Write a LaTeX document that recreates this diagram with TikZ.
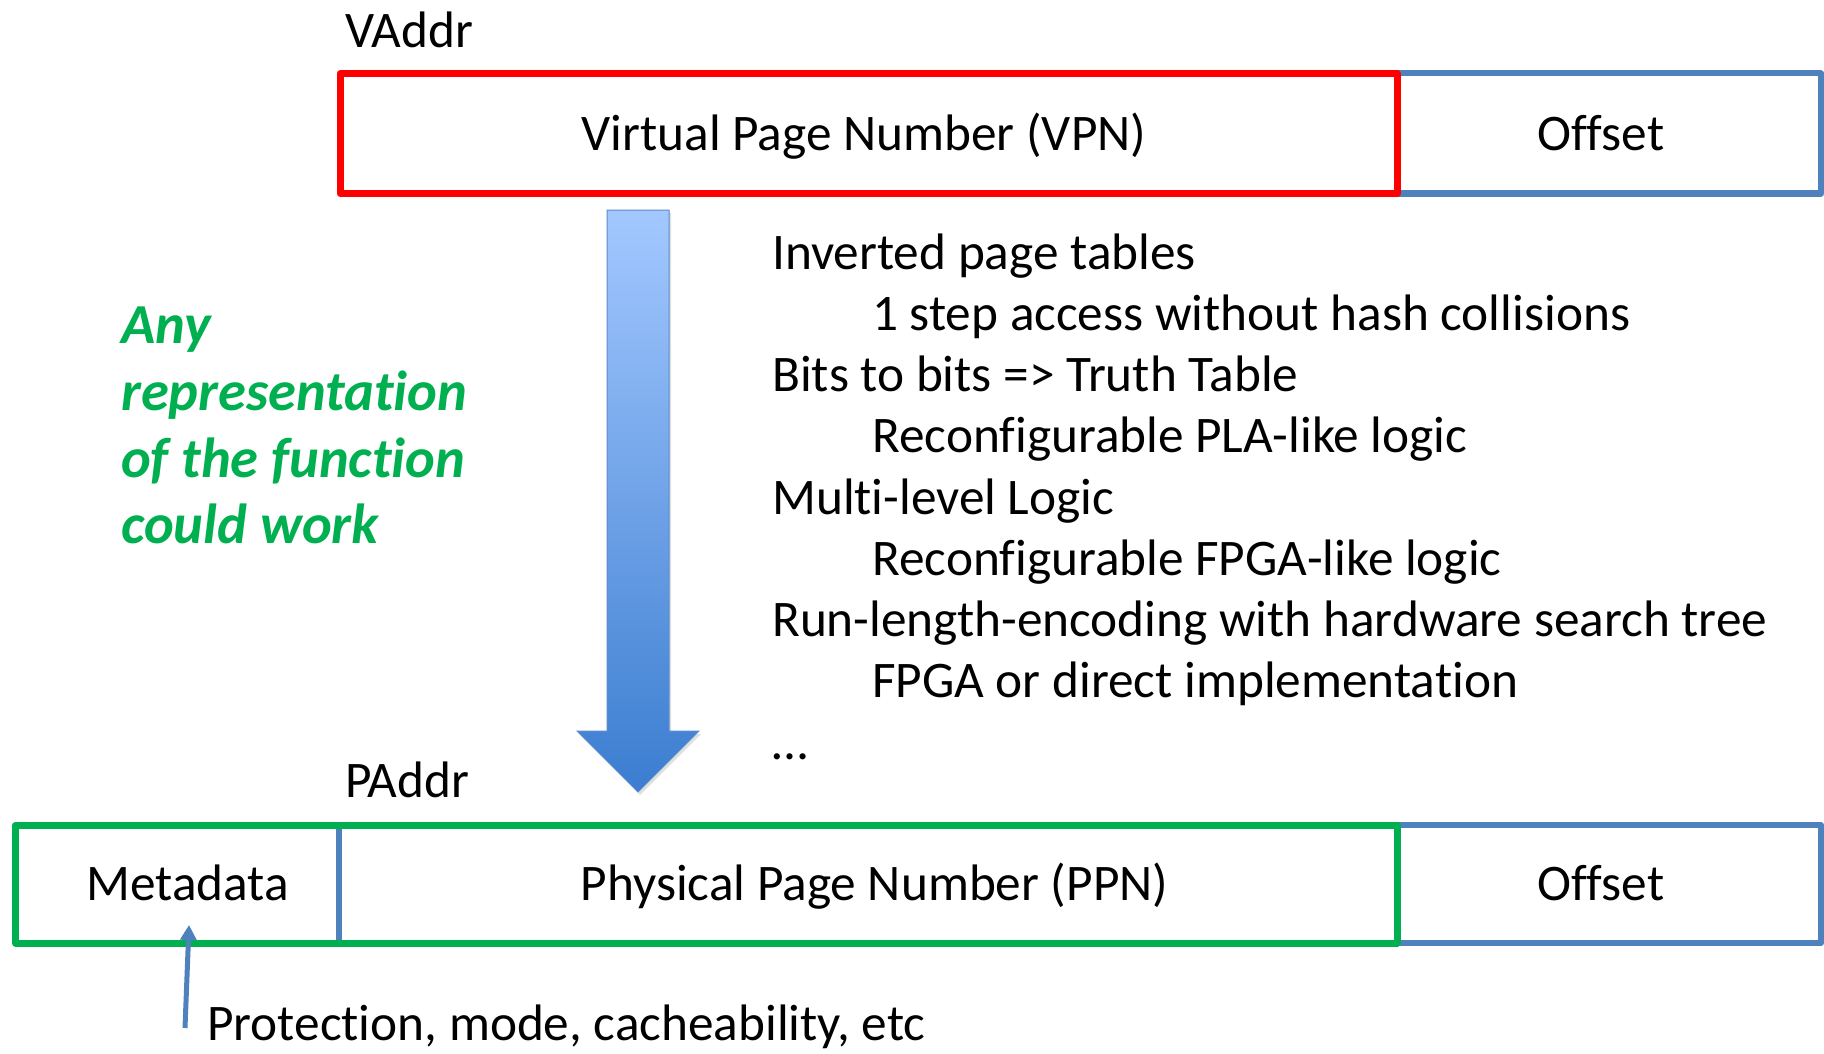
\documentclass[tikz,border=0pt]{standalone}
\usepackage{fontspec}
\setmainfont{Carlito}[Ligatures=NoCommon]
\usetikzlibrary{arrows.meta,shadows}
\definecolor{redb}{HTML}{FF0000}
\definecolor{greenb}{HTML}{00B050}
\definecolor{blueb}{HTML}{4F81BD}
\definecolor{arrtop}{HTML}{A3C8FF}
\definecolor{arrbot}{HTML}{3B7DD0}
\definecolor{arredge}{HTML}{5B8CCB}
\begin{document}
\begin{tikzpicture}[x=1pt,y=-1pt,
  txt/.style={inner sep=0pt, font=\fontsize{51.3}{60}\selectfont},
  gtxt/.style={inner sep=0pt, anchor=base west, text=greenb,
     font=\fontsize{56.5}{64}\selectfont\bfseries\itshape},
  field/.style={inner sep=0pt, outer sep=0pt, line join=round},
  bluebox/.style={field, draw=blueb, line width=6pt},
  redbox/.style={field, draw=redb, line width=7pt},
  greenbox/.style={field, draw=greenb, line width=7pt},
  bigarrow/.style={top color=arrtop, bottom color=arrbot, draw=arredge, line width=1pt,
     drop shadow={opacity=0.25, shadow xshift=2pt, shadow yshift=-3pt}},
  metaarrow/.style={draw=blueb, line width=5pt, -{Triangle[width=16pt,length=15pt]}}
]
\useasboundingbox (0,0) rectangle (1824,1054);
\fill[white] (0,0) rectangle (1824,1054);

% top address
\node[bluebox, minimum width=424pt, minimum height=120pt] (voff) at (1609,133.5) {};
\node[redbox, minimum width=1057pt, minimum height=120pt] (vpn) at (868.5,133.5) {};
\node[txt, anchor=base] (vpntxt) at (864,150) {Virtual Page Number (VPN)};
\node[txt, anchor=base] (vofftxt) at (1601,150) {Offset};
\node[txt, anchor=base west] (vaddr) at (345,48) {VAddr};

% big arrow
\path[bigarrow] (607,210) -- (669,210) -- (669,731) -- (699,731) -- (638,792)
   -- (577,731) -- (607,731) -- cycle;

% bottom address
\node[bluebox, minimum width=424pt, minimum height=118pt] (poff) at (1609,884) {};
\node[field, minimum width=323.5pt, minimum height=118pt] (meta) at (177.25,884) {};
\draw[blueb, line width=6pt] (meta.north east) -- (meta.south east);
\node[greenbox, minimum width=1381.5pt, minimum height=118pt] (ppn) at (706.25,884) {};
\node[txt, anchor=base] (metatxt) at (187.5,900) {Metadata};
\node[txt, anchor=base] (ppntxt) at (874.5,900) {Physical Page Number (PPN)};
\node[txt, anchor=base] (pofftxt) at (1601,900) {Offset};
\node[txt, anchor=base west] (paddr) at (345,797) {PAddr};

% metadata pointer
\coordinate (mfoot) at (185,1028);
\coordinate (mtip) at (189,925);
\draw[metaarrow] (mfoot) -- (mtip);
\node[txt, anchor=base west] (prot) at (207,1040) {Protection, mode, cacheability, etc};

% green remark
\node[gtxt] (g1) at (121,343) {Any};
\node[gtxt] (g2) at (121,410) {representation};
\node[gtxt] (g3) at (121,477) {of the function};
\node[gtxt] (g4) at (121,543) {could work};

% list
\foreach \t/\xx/\k in {Inverted page tables/772/0,
  1 step access without hash collisions/872/1,
  Bits to bits => Truth Table/772/2,
  Reconfigurable PLA-like logic/872/3,
  Multi-level Logic/772/4,
  Reconfigurable FPGA-like logic/872/5,
  Run-length-encoding with hardware search tree/772/6,
  FPGA or direct implementation/872/7,
  …/772/8}
  \node[txt, anchor=base west] (l\k) at (\xx,269+61.25*\k) {\t};
\end{tikzpicture}
\end{document}
